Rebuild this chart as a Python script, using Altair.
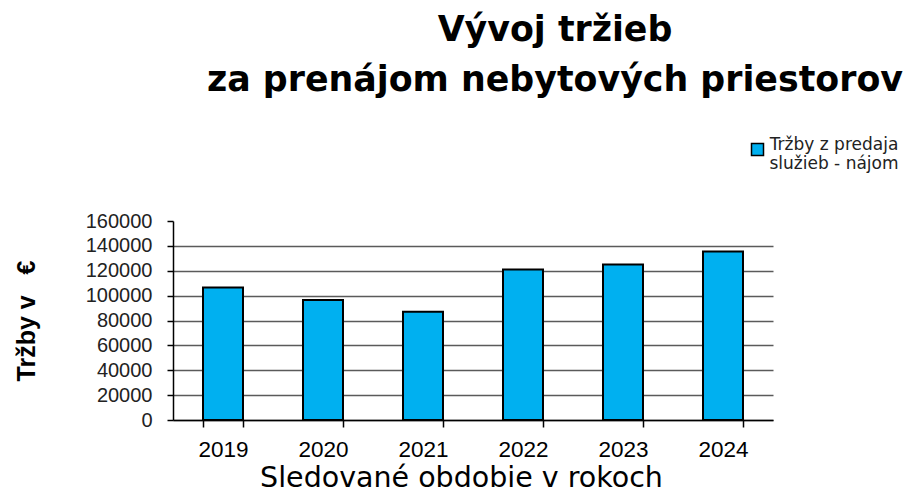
import altair as alt
import pandas as pd

years = ["2019", "2020", "2021", "2022", "2023", "2024"]
values = [106500, 96500, 87000, 121000, 125000, 135500]
series = ["Tržby z predaja\nslužieb - nájom"] * len(years)
y_ticks = [0, 20000, 40000, 60000, 80000, 100000, 120000, 140000, 160000]

df = pd.DataFrame({"rok": years, "trzby": values, "serie": series})

FONT = "Liberation Sans"
WIDE = "DejaVu Sans"

chart = alt.Chart(df).mark_bar(stroke="black", strokeWidth=2).encode(
    x=alt.X(
        "rok:N",
        scale=alt.Scale(paddingInner=0.6, paddingOuter=0.3),
        axis=alt.Axis(
            title="Sledované obdobie v rokoch",
            titleFont=WIDE, titleFontSize=28.5, titleFontWeight="normal", titleColor="black",
            titlePadding=3, titleX=288,
            labelFont=FONT, labelFontSize=22.5, labelColor="black", labelAngle=0, labelPadding=11,
            domainColor="black", domainWidth=1.5,
            tickColor="black", tickWidth=1.5, tickSize=7, tickBand="extent",
            grid=False,
        ),
    ),
    y=alt.Y(
        "trzby:Q",
        scale=alt.Scale(domain=[0, 160000], nice=False),
        axis=alt.Axis(
            title="Tržby v\u00a0\u00a0\u00a0€",
            titleFont=FONT, titleFontSize=25, titleFontWeight="bold", titleColor="black",
            titlePadding=46,
            values=y_ticks, format="d",
            labelFont=FONT, labelFontSize=20, labelColor="#222222", labelPadding=15,
            domainColor="black", domainWidth=1.5,
            tickColor="black", tickWidth=1.5, tickSize=6,
            grid=True, gridColor="#5a5a5a", gridWidth=1.5,
            gridOpacity=alt.condition("datum.value == 160000", alt.value(0), alt.value(1)),
        ),
    ),
    color=alt.Color(
        "serie:N",
        scale=alt.Scale(range=["#00B0F0"]),
        legend=alt.Legend(
            title=None, orient="none", legendX=576, legendY=-80,
            symbolType="square", symbolSize=144, symbolStrokeColor="black",
            symbolStrokeWidth=1.5, symbolFillColor="#00B0F0",
            labelFont=WIDE, labelFontSize=17, labelColor="#222222",
            labelExpr="split(datum.label, '\\n')", labelAlign="center",
            labelOffset=68, labelLimit=300, labelBaseline="alphabetic",
        ),
    ),
).properties(
    width=600,
    height=199,
    padding={"left": 165, "top": 213, "right": 133, "bottom": 76},
    autosize=alt.AutoSizeParams(type="none"),
    title=alt.TitleParams(
        text=["Vývoj tržieb", "za prenájom nebytových priestorov"],
        font=WIDE, fontSize=34.8, fontWeight="bold", color="black",
        lineHeight=50, anchor="middle", dx=82, offset=42,
    ),
).configure_view(stroke=None)

chart.save("out.html", embed_options={"renderer": "svg", "actions": False})
